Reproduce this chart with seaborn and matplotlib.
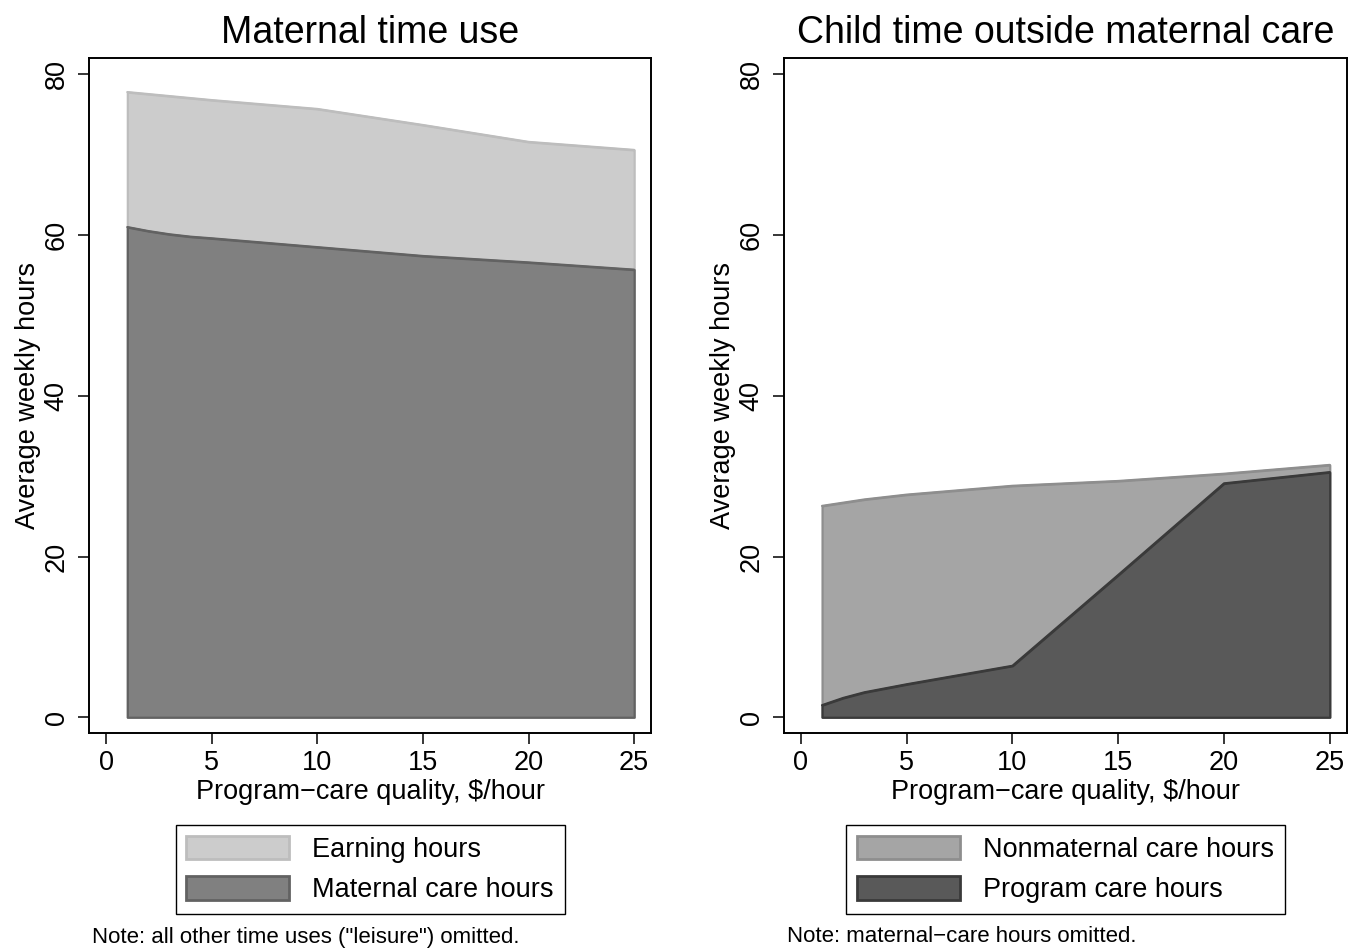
#!/usr/bin/env python3
import numpy as np
import pandas as pd
import matplotlib
matplotlib.use("Agg")
import matplotlib.pyplot as plt
from matplotlib.patches import Patch
import seaborn as sns

# Program-care quality grid ($/hour)
QUALITY = [1, 2, 3, 4, 5, 10, 15, 20, 25]

# Left panel: maternal time use [weekly hours]
MATERNAL_CARE = [61.0, 60.5, 60.1, 59.8, 59.6, 58.5, 57.4, 56.6, 55.7]
EARNING_HOURS = [16.8, 17.05, 17.2, 17.25, 17.2, 17.2, 16.3, 15.0, 14.9]

# Right panel: child time outside maternal care [weekly hours]
PROGRAM_CARE = [1.5, 2.4, 3.1, 3.6, 4.1, 6.4, 17.7, 29.1, 30.5]
NONMATERNAL_CARE = [24.8, 24.3, 24.0, 23.8, 23.6, 22.4, 11.7, 1.2, 0.9]

TITLES = ["Maternal time use", "Child time outside maternal care"]
NOTES = ["Note: all other time uses (\"leisure\") omitted.",
         "Note: maternal\u2212care hours omitted."]
XLABEL = "Program\u2212care quality, $/hour"
YLABEL = "Average weekly hours"

sns.set_style("white")
plt.rcParams['font.family'] = ['Liberation Sans', 'DejaVu Sans']
plt.rcParams['text.color'] = 'black'
plt.rcParams['axes.labelcolor'] = 'black'


def stacked_panel(ax, df, lower, upper, styles):
    # Stata-like overlay: the total area first, then the lower series on top
    x = df['quality']
    total = df[lower] + df[upper]
    for key, top in [(upper, total), (lower, df[lower])]:
        face, edge, _ = styles[key]
        ax.fill_between(x, 0, top, facecolor=face, edgecolor=edge,
                        linewidth=1.6, zorder=2)
        sns.lineplot(x=x, y=top, color=edge, linewidth=1.6, ax=ax,
                     zorder=3, legend=False)


def main():
    df = pd.DataFrame({
        'quality': QUALITY,
        'maternal': MATERNAL_CARE,
        'earning': EARNING_HOURS,
        'program': PROGRAM_CARE,
        'nonmaternal': NONMATERNAL_CARE,
    })

    styles = {
        'earning': ('#cccccc', '#bdbdbd', 'Earning hours'),
        'maternal': ('#808080', '#626262', 'Maternal care hours'),
        'nonmaternal': ('#a5a5a5', '#8e8e8e', 'Nonmaternal care hours'),
        'program': ('#595959', '#3a3a3a', 'Program care hours'),
    }
    panels = [('maternal', 'earning'), ('program', 'nonmaternal')]

    fig = plt.figure(figsize=(13.51, 9.5), dpi=100)
    axes = [fig.add_axes([0.0661, 0.2281, 0.4158, 0.7105]),
            fig.add_axes([0.5803, 0.2281, 0.4165, 0.7105])]

    for i, (ax, (lower, upper)) in enumerate(zip(axes, panels)):
        stacked_panel(ax, df, lower, upper, styles)
        ax.set_xlim(-0.8, 25.8)
        ax.set_ylim(-2, 82)
        ax.set_xticks([0, 5, 10, 15, 20, 25])
        ax.set_yticks([0, 20, 40, 60, 80])
        for sp in ax.spines.values():
            sp.set_visible(True)
            sp.set_color('black')
            sp.set_linewidth(1.4)
        ax.tick_params(axis='both', direction='out', length=8, width=1.1,
                       color='black', labelsize=19.5, labelcolor='black',
                       bottom=True, left=True)
        ax.tick_params(axis='x', pad=4)
        ax.tick_params(axis='y', pad=6)
        for lab in ax.get_yticklabels():
            lab.set_rotation(90)
            lab.set_va('center')
        ax.set_xlabel(XLABEL, fontsize=19.5, labelpad=2)
        ax.set_ylabel(YLABEL, fontsize=19.5, labelpad=2)
        ax.set_title(TITLES[i], fontsize=27, pad=11, color='black')

        handles = [Patch(facecolor=styles[k][0], edgecolor=styles[k][1],
                         linewidth=2, label=styles[k][2])
                   for k in (upper, lower)]
        leg = ax.legend(handles=handles, loc='upper center',
                        bbox_to_anchor=(0.5, -0.136), fontsize=19.5,
                        frameon=True, fancybox=False, framealpha=1,
                        edgecolor='black', handlelength=3.8,
                        handleheight=0.95, handletextpad=0.85,
                        labelspacing=0.5, borderpad=0.4, borderaxespad=0)
        leg.get_frame().set_linewidth(1.0)

        bbox = ax.get_position()
        fig.text(bbox.x0 + 0.002, 1 - 937 / 950, NOTES[i], fontsize=16,
                 va='center', ha='left')

    fig.savefig("out.png", dpi=100)
    plt.close()


if __name__ == '__main__':
    main()
